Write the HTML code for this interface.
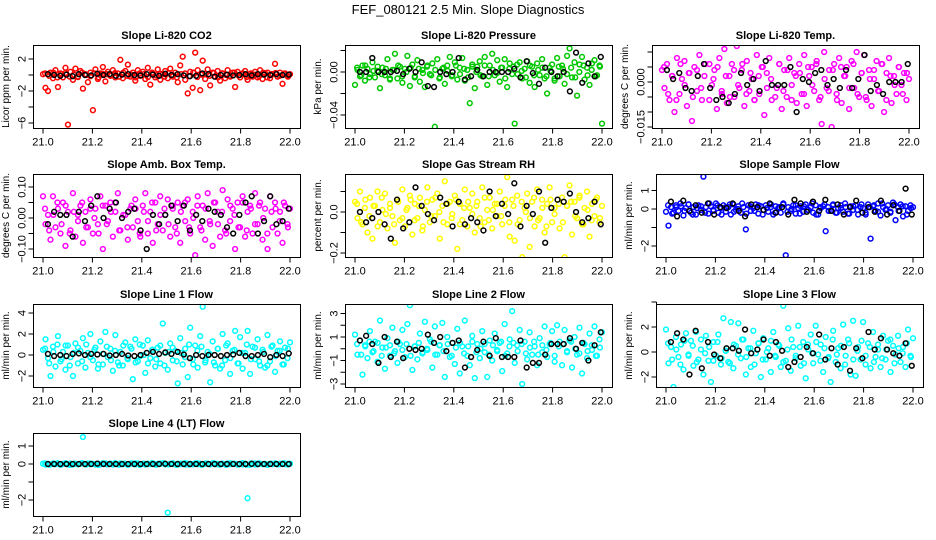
<!DOCTYPE html>
<html><head><meta charset="utf-8"><style>
html,body{margin:0;padding:0;background:#fff;}
svg{display:block;font-family:"Liberation Sans",Arial,sans-serif;}
</style></head><body>
<svg id="chart" width="936" height="540" viewBox="0 0 936 540" xmlns="http://www.w3.org/2000/svg">
<text x="468" y="14" text-anchor="middle" font-size="13">FEF_080121  2.5 Min. Slope Diagnostics</text>
</svg>
<script>
const xTickValues=[21.0,21.2,21.4,21.6,21.8,22.0];
const xTickLabels=["21.0","21.2","21.4","21.6","21.8","22.0"];
const co2Values=[0.1,-1.6,-2,0.3,-0.4,0.6,-1.5,0.2,-0.3,0.9,-6.2,0.4,-0.6,0.8,-0.2,0.5,-1.7,0.1,-0.9,0.3,-4.4,0.7,-0.5,0.2,1,-0.8,0.4,-0.1,0.6,-0.3,0.2,1.9,-0.4,0.5,1.3,-0.2,0.3,-0.7,0.6,-0.1,0.4,-0.5,0.9,-1.2,0.2,-0.3,0.7,-0.6,0.1,0.5,-0.4,0.8,-0.2,0.3,-0.9,1.2,2.3,-0.6,-2.3,0.4,-1.6,2.8,0.6,-1.9,1.8,-0.5,0.7,-1.3,0.3,-0.2,0.5,-0.7,0.2,-0.4,0.6,-0.1,0.3,-1.5,0.4,-0.3,0.2,0.5,-0.6,0.1,-0.2,0.4,-0.3,0.6,-0.5,0.2,0.3,-0.4,0.1,1.4,-0.2,0.3,-1.1,0.2,-0.1,0.1];
const co2Core=[0.2,-0.1,0.3,-0.3,0.1,0.25,-0.2,0.05,-0.25,0.3,0,-0.15,0.2,-0.3,0.15,0.1,-0.05,0.25,-0.2,0.3,-0.1,0.05,-0.3,0.2,0.1,-0.25,0.3,-0.05,0.15,-0.2,0.25,0,-0.3,0.1,0.2,-0.15,0.3,-0.25,0.05,0.15,-0.1,0.25,-0.3,0.2,0,-0.2,0.3,-0.05,0.1,-0.25,0.2,0.05,-0.15,0.3,-0.3,0.1,0.25,-0.1,0.15,-0.2];
const co2Black=[0.1,0,-0.1,0.05,-0.15,0.1,0,-0.05,0.15,0,0.1,-0.1,0.05,0.1,0,-0.05,0.1,0.05,-0.1,0.15,0,0.1,-0.05,-0.15,-0.1,0.2,0.1,-0.2,0,0.05,-0.05,0,0.1,-0.05,0.1,0.05,0,0.1,0,0.05];
const presValues=[-0.012,0.002,-0.004,0.006,-0.008,0.003,-0.002,0.009,-0.005,0.001,-0.015,0.004,-0.003,0.012,-0.007,0.002,0.017,-0.006,0.005,-0.01,0.003,0.015,-0.013,0.007,-0.004,0.011,-0.009,0.002,-0.014,0.006,-0.002,0.008,-0.051,0.012,-0.005,0.003,-0.011,0.006,0.014,-0.003,0.009,-0.007,0.004,0.013,-0.008,0.002,-0.029,0.007,-0.015,0.005,0.01,-0.004,0.014,-0.012,0.006,0.017,-0.003,0.011,-0.009,0.004,0.012,-0.014,0.008,-0.002,-0.048,0.007,0.009,-0.006,0.003,0.01,-0.01,0.005,-0.014,0.008,-0.003,0.012,-0.006,-0.02,0.004,0.007,-0.008,0.013,-0.004,0.006,-0.011,0.015,0.022,-0.005,0.009,-0.022,0.007,0.014,-0.007,0.004,-0.012,0.008,0.011,-0.003,0.006,-0.048];
const presCore=[0.004,-0.003,0.006,-0.005,0.001,0.005,-0.002,0.003,-0.006,0.002,0.006,-0.004,0,0.004,-0.005,0.003,-0.001,0.005,-0.003,0.002,-0.006,0.004,0.001,-0.004,0.006,-0.002,0.003,-0.005,0.005,0,-0.003,0.006,-0.004,0.002,-0.001,0.004,-0.006,0.003,0.005,-0.002,0.001,-0.005,0.006,-0.003,0.002,0.004,-0.004,0.001,-0.006,0.005,0.003,-0.002,0.004,-0.005,0,0.006,-0.003,0.002,-0.004,0.005];
const presBlack=[0,0,0.013,0,0,0,0.001,-0.002,0.003,0,0.009,-0.013,-0.014,0,-0.002,0,0.013,-0.007,-0.004,0.002,-0.004,0,0,0,0,0.003,-0.005,0.01,-0.001,-0.011,0.004,0,-0.004,0,-0.018,0.018,-0.01,0.008,-0.004,0.014];
const liTempValues=[0.004,-0.002,0.006,-0.006,0.002,-0.01,0.008,-0.004,0.001,0.007,-0.008,0.003,-0.013,0.005,-0.003,0.009,-0.006,0.002,-0.018,0.006,-0.001,0.004,-0.009,0.008,-0.004,0.011,-0.007,0.002,0.006,-0.005,0.012,-0.002,0.004,-0.008,0.007,-0.003,0.001,-0.006,0.009,-0.004,0.005,-0.011,0.003,0.008,-0.006,0.013,-0.002,0.006,-0.009,0.004,-0.005,0.008,-0.001,0.003,-0.007,0.006,-0.004,0.009,-0.008,0.002,0.005,-0.003,0.007,-0.006,-0.014,0.01,-0.002,0.004,-0.015,0.006,-0.004,0.008,-0.007,0.002,0.005,-0.009,0.007,-0.002,0.01,-0.005,0.003,0.009,-0.006,0.004,-0.008,0.001,0.007,-0.003,0.006,-0.01,0.003,0.008,-0.007,0.002,-0.004,0.005,-0.001,0.003,-0.006,0.001];
const liTempCore=[0.005,-0.004,0.002,-0.006,0.006,-0.001,0.003,-0.005,0.004,-0.002,0.006,-0.006,0.001,0.005,-0.003,0.002,-0.005,0.004,-0.001,0.006,-0.004,0.003,-0.006,0.002,0.005,-0.002,0.001,-0.005,0.006,-0.003,0.004,-0.006,0.002,0.003,-0.004,0.005,-0.001,0.006,-0.005,0.001,-0.003,0.004,-0.006,0.005,0.002,-0.002,0.006,-0.004,0.003,-0.005,0.001,0.004,-0.003,0.006,-0.006,0.002,-0.001,0.005,-0.004,0.003];
const liTempBlack=[0.004,0.001,0.003,-0.002,-0.003,0.002,0.006,-0.002,-0.006,-0.005,-0.007,-0.004,0.003,-0.001,0.001,-0.003,0.007,-0.001,-0.001,-0.001,0.005,-0.01,0.001,0,0.003,0.004,-0.001,0.001,-0.002,0.004,-0.002,0.001,0.009,-0.003,-0.001,-0.004,0,0,0,0.006];
const ambValues=[0.07,-0.02,0.01,-0.07,0.07,-0.03,0.03,-0.05,0.05,-0.09,0.02,-0.04,0.08,-0.06,0.01,0.04,-0.08,0.02,-0.03,0.06,-0.05,0.03,-0.02,0.07,-0.1,0.04,-0.01,0.05,-0.06,0.02,0.08,-0.04,0.15,0.01,-0.07,0.03,-0.03,0.06,-0.01,-0.06,0.04,0.08,-0.05,0.02,-0.08,0.05,-0.02,0.07,-0.04,0.01,0.06,-0.06,0.03,-0.03,0.05,-0.08,0.04,-0.01,0.06,-0.05,0.02,-0.12,0.07,-0.03,0.04,-0.07,0.08,-0.02,-0.09,0.05,0.02,-0.06,0.09,-0.04,0.06,-0.01,0.03,-0.1,0.05,-0.03,0.07,-0.06,0.02,0.04,-0.05,0.08,-0.02,0.05,-0.07,0.03,-0.1,0.07,-0.03,0.05,-0.05,0.02,-0.08,0.04,-0.02,0.03];
const ambCore=[0.03,-0.04,0.01,0.05,-0.02,0.04,-0.05,0.02,-0.01,0.05,-0.03,0.03,0,-0.05,0.04,-0.02,0.02,0.05,-0.04,0.01,-0.03,0.04,0.03,-0.05,0.02,-0.01,0.05,-0.04,0.01,0.03,-0.02,0.04,-0.05,0.02,0.05,-0.03,0,0.04,-0.04,0.03,-0.01,0.05,-0.02,0.02,-0.05,0.04,0.01,-0.03,0.05,-0.04,0.03,-0.02,0.04,0,-0.05,0.02,0.03,-0.01,0.05,-0.03];
const ambBlack=[-0.02,0.02,0.01,0.01,-0.06,0.02,-0.01,0.04,0.07,0,0.03,0.05,0,0.02,0.03,-0.04,-0.1,0.01,-0.02,0.01,0.04,-0.01,0.04,-0.04,0.01,-0.01,0.03,0.02,0.01,-0.03,-0.05,0.01,0.05,0.07,-0.05,-0.01,0.07,-0.02,-0.01,0.03];
const rhValues=[0.05,-0.03,0.1,-0.06,0.02,-0.1,0.07,-0.13,0.03,0.1,-0.05,0.01,0.09,-0.08,0.04,-0.02,-0.15,0.06,-0.04,0.11,-0.07,0.02,0.08,-0.11,0.04,-0.03,0.07,-0.09,0.01,0.12,-0.05,0.06,-0.02,0.09,-0.13,0.03,0.15,-0.06,0.05,-0.01,0.08,-0.18,0.04,-0.04,0.11,-0.07,0.02,0.09,-0.1,0.05,-0.03,0.12,-0.05,0.01,0.07,-0.08,0.04,-0.02,0.1,-0.06,0.03,0.17,-0.12,0.06,-0.14,0.08,-0.04,-0.22,0.02,0.09,-0.17,0.05,-0.07,0.11,-0.03,0.06,-0.1,0.04,0.12,-0.05,0.02,0.2,-0.08,0.07,-0.22,0.03,0.13,-0.11,0.05,-0.03,0.08,-0.06,0.02,0.1,-0.12,0.04,-0.02,0.07,-0.05,0.03];
const rhCore=[0.04,-0.05,0.06,-0.02,0.03,-0.07,0.07,-0.01,0.02,-0.06,0.05,-0.03,0.01,0.06,-0.04,0.03,-0.07,0.05,-0.02,0.07,0,-0.05,0.04,-0.03,0.06,-0.06,0.02,0.05,-0.01,0.03,-0.07,0.07,-0.04,0.01,0.04,-0.02,0.06,-0.05,0.03,-0.06,0.05,0,-0.03,0.07,-0.04,0.02,-0.07,0.06,-0.01,0.04,-0.05,0.03,0.05,-0.02,0.07,-0.06,0.01,-0.04,0.06,-0.03];
const rhBlack=[0,-0.05,-0.03,0,-0.06,-0.13,0.06,-0.08,-0.05,0.12,0.03,-0.01,-0.04,0.07,0.04,-0.07,0.05,-0.06,-0.03,-0.05,-0.09,0.1,-0.02,0.04,-0.01,0.14,-0.07,0.03,-0.01,0.1,-0.15,0.02,0.06,0.05,0.09,0,-0.05,-0.03,0.05,-0.06];
const sampleValues=[-0.15,-0.9,0.1,-0.2,0.2,-0.1,0.15,-0.35,0.05,0.25,-0.2,0.1,-0.3,0.2,-0.05,1.75,0.1,-0.25,0.15,-0.1,0.3,-0.2,0.05,0.2,-0.15,0.1,-0.3,0.25,-0.05,0.15,-0.2,0.1,-1.1,0.2,-0.1,0.05,0.25,-0.25,0.15,-0.05,0.2,-0.15,0.1,-0.3,0.15,0.05,-0.2,0.25,-2.5,0.1,-0.1,0.2,-0.25,0.05,0.15,-0.15,0.25,-0.05,0.1,-0.2,0.2,-0.3,0.05,0.15,-1.2,0.1,-0.1,0.25,-0.2,0.05,0.2,-0.15,0.1,-0.25,0.15,-0.05,0.2,-0.3,0.1,0.05,-0.2,0.25,-1.6,0.15,-0.1,0.3,-0.35,0.1,-0.05,0.2,-0.15,0.35,-0.6,0.1,0.25,-0.4,0.15,-0.1,0.2,0.1];
const sampleCore=[0.2,-0.25,0.1,0.3,-0.1,0.25,-0.3,0.05,0.15,-0.2,0.3,-0.05,0.2,-0.3,0.1,0.25,-0.15,0,0.3,-0.25,0.15,-0.1,0.2,-0.3,0.05,0.25,-0.2,0.1,0.3,-0.15,0,0.2,-0.25,0.15,-0.05,0.3,-0.3,0.1,0.25,-0.1,0.2,-0.2,0.05,0.3,-0.25,0.15,-0.05,0.25,-0.3,0.1,0.2,-0.15,0.3,0,-0.2,0.25,-0.1,0.15,-0.3,0.05];
const sampleBlack=[0.4,-0.4,0.45,-0.1,0.2,-0.2,0.3,-0.3,0.1,0.05,0.3,-0.1,-0.4,0.25,0.1,-0.05,0.3,-0.2,0.1,-0.3,0.5,0.3,-0.15,0.4,-0.1,0.5,-0.1,0.25,-0.3,0.1,0.45,-0.2,0.1,-0.15,0.45,-0.3,0.2,-0.1,1.1,-0.3];
const line1Values=[0.5,1.5,-0.3,-2,0.8,-1.1,1.8,-0.6,0.3,-1.4,0.9,-0.2,-2,1.1,-0.8,0.4,1.6,-1.2,0.2,2,-0.5,0.7,-1.3,1.3,-0.9,2.2,-0.2,0.6,-1.5,1.9,-0.7,0.3,-1,1.2,-0.4,0.8,-2.3,1.5,-0.6,-0.1,0.9,-1.7,1.4,-0.3,0.5,-1.1,0.7,-0.8,3,0.2,-1.4,1.1,-0.5,0.4,-2.7,1.6,-0.9,0.6,-2.1,2.6,-0.4,0.9,-1.2,1.8,4.6,-0.7,0.3,-2.6,1.3,-1,0.6,-1.3,2,-0.5,1.1,-1.8,0.4,2.3,-0.8,1.7,-1.3,0.2,2.3,-1.8,0.8,-0.4,1.5,-1,0.5,-1.2,1.9,-0.6,0.9,-1.6,0.4,1.3,-0.9,0.7,-0.3,1.2];
const line1Core=[0.6,-0.8,0.3,1,-0.4,0.9,-1,0.2,0.7,-0.6,1,-0.2,0.5,-0.9,0.1,0.8,-0.5,0.4,-1,0.9,-0.3,0.6,-0.7,1,0,-0.8,0.5,-0.4,0.9,-1,0.3,0.7,-0.6,0.2,-0.2,1,-0.9,0.4,0.8,-0.5,0.1,-0.7,0.6,-1,0.9,-0.3,0.5,-0.8,0.2,1,-0.4,0.7,-0.6,0.3,-1,0.8,-0.1,0.4,-0.9,0.6];
const line1Black=[0.1,-0.1,0,-0.1,0.1,0.15,0,0.1,0.05,0.1,-0.05,0,0.1,-0.05,-0.1,0,0.2,0.3,0.1,0.25,0.1,0.3,0.05,-0.3,0,-0.1,0,0,-0.1,0,0.05,0.2,-0.1,-0.1,0,0.1,-0.2,0,-0.1,0.15];
const line2Values=[1.2,-0.5,0.7,-2.2,0.3,-0.8,1.5,-0.3,0.6,-1.1,2.4,0.1,-1.7,0.9,-0.6,1.8,-0.2,-1.2,0.4,1.6,-0.7,2.1,3.7,-1.8,0.2,-0.9,1.3,-0.4,2.3,-0.1,0.8,-1.6,1.9,-0.5,0.3,2.2,-2.4,1,-0.7,0.5,-1.3,1.7,-2.1,0.2,2.4,-0.6,-1.4,1.1,-2.5,0.4,-0.8,1.5,-0.3,-2.4,0.7,-1,1.3,-0.2,0.5,-1.9,2.1,-0.4,0.8,3.2,-1.2,0.3,1.6,-3,0.6,-0.9,1.4,-0.5,0.2,-1.4,0.9,-0.3,1.9,-0.7,0.4,1.5,-1.1,2,0.6,-1.4,1.6,-0.2,0.7,-1.6,1,-0.5,1.8,-2.1,0.4,-0.8,1.3,-0.1,1.9,-0.6,0.8,1.4];
const line2Core=[0.4,-0.5,0.2,0.6,-0.2,0.5,-0.6,0.1,0.3,-0.4,0.6,-0.1,0.4,-0.6,0.2,0.5,-0.3,0,0.6,-0.5,0.3,-0.2,0.4,-0.6,0.1,0.5,-0.4,0.2,0.6,-0.3,0,0.4,-0.5,0.3,-0.1,0.6,-0.6,0.2,0.5,-0.2,0.4,-0.4,0.1,0.6,-0.5,0.3,-0.1,0.5,-0.6,0.2,0.4,-0.3,0.6,0,-0.4,0.5,-0.2,0.3,-0.6,0.1];
const line2Black=[0.7,1.1,0.4,-1.2,1,-0.7,0.6,-0.8,0,-0.1,0,1.2,0.5,1,-0.2,0.5,0.7,-1.6,-0.7,-0.1,0.6,-0.6,0.9,-0.7,-0.7,-0.7,0.7,-1.6,-1.2,-1.2,-0.5,0.4,0.4,0.4,0.9,0,0.5,-1.0,0.3,1.4];
const line3Values=[1.8,-0.9,0.4,-2.8,1.2,-0.4,0.6,-1.4,1.5,-0.2,0.9,-1.1,1.6,-0.6,0.2,-1.8,1.3,-0.7,-2.4,0.8,-0.3,1.4,-1,2.7,0.1,-0.8,2.4,-1.3,0.5,2.3,-0.5,1,-1.8,0.3,-1.2,1.7,-0.1,0.7,-2,1.1,-0.6,0.3,-1.6,1.6,-0.4,0.6,-1.2,3.7,-0.7,1.9,-1.5,0.4,-0.3,2.1,-1.1,0.8,-2.1,0.2,1.4,-0.9,2.1,-0.2,0.6,-1.6,1.2,-0.5,-2.4,1.7,-0.8,0.3,-1.3,2.2,-0.3,1,-1.8,2.5,-1.9,0.4,-0.6,2.4,-1,0.7,-1.3,1.6,-0.4,0.2,-1.2,1.3,-0.6,0.9,-1.6,0.5,-0.2,1.3,-0.8,0.4,-1.2,1.8,-0.3,1.1];
const line3Core=[0.7,-0.6,0.2,-1,0.9,-0.3,0.5,-0.8,1,-0.1,0.4,-0.7,0.8,-0.5,0.1,-0.9,0.6,-0.2,1,-0.4,0.3,-1,0.7,-0.6,0,0.9,-0.3,0.5,-0.8,0.2,1,-0.5,0.4,-0.9,0.6,-0.1,0.8,-0.7,0.3,-0.4,1,-0.2,0.5,-1,0.7,-0.6,0.1,0.9,-0.3,0.4,-0.8,0.6,-0.5,0.2,1,-0.9,0.3,-0.1,0.7,-0.4];
const line3Black=[0.8,1.5,1,-1.8,1.7,-1.3,0.8,-0.2,-0.5,0.3,0.3,0.1,1.8,-0.1,0.2,1,-0.3,0.8,0.1,-1.2,-0.8,-0.4,0.4,-0.1,1.4,-0.6,0.3,-1,0.4,-1.5,0.3,-0.5,1.6,0.2,1.1,0.2,-0.1,-0.3,0.7,-1.1];
const line4Values=[0.02,-0.03,0.01,-0.02,0.03,-0.01,0.02,-0.04,0.01,0.03,-0.02,0.02,-0.03,0.01,-0.01,0.02,1.5,-0.02,0.03,-0.01,0.01,-0.03,0.02,-0.02,0.01,0.03,-0.01,0.02,-0.03,0.01,-0.02,0.03,-0.01,0.02,-0.04,0.01,0.02,-0.02,0.03,-0.01,0.01,-0.03,0.02,-0.01,0.03,-0.02,0.01,0.02,0.05,-0.02,-2.7,0.01,0.03,-0.02,0.02,-0.01,0.01,-0.03,0.02,0.01,-0.02,0.03,-0.01,0.02,-0.03,0.01,0.02,-0.02,0.04,-0.01,0.01,-0.03,0.02,-0.02,0.03,-0.01,0.01,0.02,-0.03,0.01,-0.02,0.02,-1.9,-0.04,0.01,0.03,-0.02,0.02,-0.01,0.01,-0.03,0.02,-0.01,0.03,-0.02,0.01,0.02,-0.01,0.01,0.02];
const line4Core=[0.03,-0.04,0.01,0.05,-0.02,0.04,-0.05,0.02,-0.01,0.05,-0.03,0.03,0,-0.05,0.04,-0.02,0.02,0.05,-0.04,0.01,-0.03,0.04,0.03,-0.05,0.02,-0.01,0.05,-0.04,0.01,0.03,-0.02,0.04,-0.05,0.02,0.05,-0.03,0,0.04,-0.04,0.03,-0.01,0.05,-0.02,0.02,-0.05,0.04,0.01,-0.03,0.05,-0.04,0.03,-0.02,0.04,0,-0.05,0.02,0.03,-0.01,0.05,-0.03];
const line4Black=[0,0,0,0,0,0,0,0,0.02,0,0,0,0,0,0,0,0,0,0,0.01,0,0,0,0,0,0,0,0,0,0,0,0,0,0.01,0,0,0,0,0,0];

const NS="http://www.w3.org/2000/svg";
const svg=document.getElementById('chart');
function mk(tag,attrs,parent){const e=document.createElementNS(NS,tag);for(const k in attrs)e.setAttribute(k,attrs[k]);(parent||svg).appendChild(e);return e;}

const panels=[
 {key:'co2',title:'Slope Li-820 CO2',ylab:'Licor ppm per min.',left:33,top:45,color:'#ff0000',ref:[0,75,2,59],ticks:[-6,-4,-2,0,2],labels:{'-6':'\u22126','-2':'\u22122','2':'2'},vals:co2Values,core:co2Core,blk:co2Black},
 {key:'pressure',title:'Slope Li-820 Pressure',ylab:'kPa per min.',left:345,top:45,color:'#00c800',ref:[0,72,-0.04,115],ticks:[0.02,0,-0.02,-0.04],labels:{'0':'0.00','-0.04':'\u22120.04'},vals:presValues,core:presCore,blk:presBlack},
 {key:'li-temp',title:'Slope Li-820 Temp.',ylab:'degrees C per min.',left:652,top:45,color:'#ff00ff',ref:[0,82,-0.015,127],ticks:[0.01,0.005,0,-0.005,-0.01,-0.015],labels:{'0':'0.000','-0.015':'\u22120.015'},vals:liTempValues,core:liTempCore,blk:liTempBlack},
 {key:'amb-temp',title:'Slope Amb. Box Temp.',ylab:'degrees C per min.',left:33,top:174,color:'#ff00ff',ref:[0,218,0.1,187],ticks:[-0.1,-0.05,0,0.05,0.1],labels:{'-0.1':'\u22120.10','0':'0.00','0.1':'0.10'},vals:ambValues,core:ambCore,blk:ambBlack},
 {key:'rh',title:'Slope Gas Stream RH',ylab:'percent per min.',left:345,top:174,color:'#ffff00',ref:[0,212,-0.2,253],ticks:[-0.2,-0.1,0,0.1],labels:{'-0.2':'\u22120.2','0':'0.0'},vals:rhValues,core:rhCore,blk:rhBlack},
 {key:'sample-flow',title:'Slope Sample Flow',ylab:'ml/min per min.',left:656,top:174,color:'#0000ff',ref:[0,209,-2,246],ticks:[1,0,-1,-2],labels:{'1':'1','0':'0','-2':'\u22122'},vals:sampleValues,core:sampleCore,blk:sampleBlack},
 {key:'line1',title:'Slope Line 1 Flow',ylab:'ml/min per min.',left:33,top:304,color:'#00ffff',ref:[0,355,4,313],ticks:[-2,0,2,4],labels:{'-2':'\u22122','0':'0','2':'2','4':'4'},vals:line1Values,core:line1Core,blk:line1Black},
 {key:'line2',title:'Slope Line 2 Flow',ylab:'ml/min per min.',left:345,top:304,color:'#00ffff',ref:[1,337,-3,384],ticks:[3,2,1,0,-1,-2,-3],labels:{'3':'3','1':'1','-1':'\u22121','-3':'\u22123'},vals:line2Values,core:line2Core,blk:line2Black},
 {key:'line3',title:'Slope Line 3 Flow',ylab:'ml/min per min.',left:656,top:304,color:'#00ffff',ref:[0,352,2,327],ticks:[4,2,0,-2],labels:{'2':'2','0':'0','-2':'\u22122'},vals:line3Values,core:line3Core,blk:line3Black},
 {key:'line4',title:'Slope Line 4 (LT) Flow',ylab:'ml/min per min.',left:33,top:433,color:'#00ffff',ref:[0,464,-2,500],ticks:[1,0,-1,-2],labels:{'1':'1','0':'0','-2':'\u22122'},vals:line4Values,core:line4Core,blk:line4Black}
];

panels.forEach(p=>{
  const W=267,H=83;
  const g=mk('g',{});
  
  
  const xs=v=>p.left+10+(v-21)*247;
  const ys=v=>p.ref[1]+(v-p.ref[0])*(p.ref[3]-p.ref[1])/(p.ref[2]-p.ref[0]);
  const clipId='clip-'+p.key;
  const cp=mk('clipPath',{id:clipId},g);mk('rect',{x:p.left,y:p.top,width:W,height:H},cp);
  const pts=mk('g',{'clip-path':'url(#'+clipId+')'},g);
  
  
  const n=p.vals.length;
  p.vals.forEach((v,i)=>{
    const c=mk('circle',{cx:xs(21+i/(n-1)),cy:ys(v),r:2.4,fill:'none',stroke:p.color,'stroke-width':1.5},pts);
    
    
  });
  const k=p.core.length;
  p.core.forEach((v,i)=>{
    const c=mk('circle',{cx:xs(21+(i+0.5)/k),cy:ys(v),r:2.4,fill:'none',stroke:p.color,'stroke-width':1.5},pts);
    
    
  });
  const m=p.blk.length;
  p.blk.forEach((v,i)=>{
    const c=mk('circle',{cx:xs(21.02+i*0.975/(m-1)),cy:ys(v),r:2.4,fill:'none',stroke:'#000','stroke-width':1.5},pts);
    
    
  });
  const box=mk('rect',{x:p.left+0.5,y:p.top+0.5,width:W,height:H,fill:'none',stroke:'#000','stroke-width':1},g);
  
  
  const t=mk('text',{x:p.left+W/2,y:p.top-6,'text-anchor':'middle','font-size':11,'font-weight':'bold'},g);
  t.textContent=p.title;
  
  
  const xa=mk('g',{},g);
  
  
  const yb=p.top+H+0.5;
  mk('line',{x1:xs(21),x2:xs(22),y1:yb,y2:yb,stroke:'#000'},xa);
  xTickValues.forEach((v,i)=>{
    mk('line',{x1:xs(v),x2:xs(v),y1:yb,y2:yb+5,stroke:'#000'},xa);
    const l=mk('text',{x:xs(v),y:yb+17,'text-anchor':'middle','font-size':11},xa);
    l.textContent=xTickLabels[i];
  });
  const ya=mk('g',{},g);
  
  
  const xl=p.left+0.5;
  const tmin=Math.min(...p.ticks),tmax=Math.max(...p.ticks);
  mk('line',{x1:xl,x2:xl,y1:ys(tmin),y2:ys(tmax),stroke:'#000'},ya);
  p.ticks.forEach(v=>{
    const y=ys(v);
    mk('line',{x1:xl-5,x2:xl,y1:y,y2:y,stroke:'#000'},ya);
    const lab=p.labels[String(v)];
    if(lab){
      const l=mk('text',{x:xl-8,y:y,'text-anchor':'middle','font-size':11,transform:'rotate(-90 '+(xl-8)+' '+y+')'},ya);
      l.textContent=lab;
    }
  });
  const yl=mk('text',{x:p.left-24,y:p.top+H/2,'text-anchor':'middle','font-size':10,transform:'rotate(-90 '+(p.left-24)+' '+(p.top+H/2)+')'},g);
  yl.textContent=p.ylab;
  
  
});
</script>
</body></html>
